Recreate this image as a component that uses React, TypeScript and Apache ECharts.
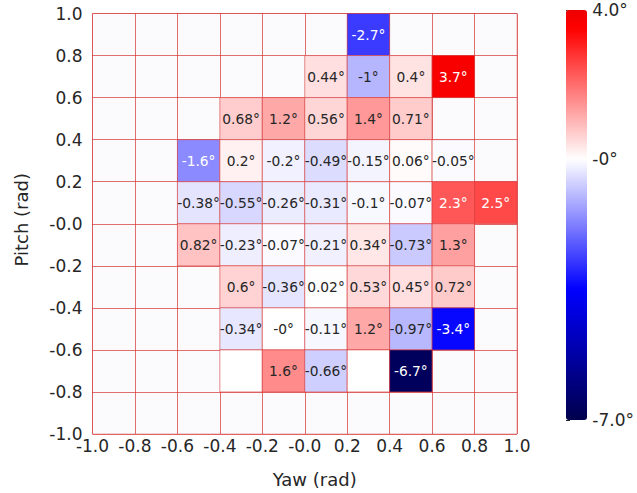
import React, { useEffect, useRef } from "react";
import * as echarts from "echarts";

const yawCenters = [-0.9, -0.7, -0.5, -0.3, -0.1, 0.1, 0.3, 0.5, 0.7, 0.9];
const pitchCenters = [0.9, 0.7, 0.5, 0.3, 0.1, -0.1, -0.3, -0.5, -0.7, -0.9];

const rowP09 = [null, null, null, null, null, null, -2.7, null, null, null];
const rowP07 = [null, null, null, null, null, 0.44, -1, 0.4, 3.7, null];
const rowP05 = [null, null, null, 0.68, 1.2, 0.56, 1.4, 0.71, null, null];
const rowP03 = [null, null, -1.6, 0.2, -0.2, -0.49, -0.15, 0.06, -0.05, null];
const rowP01 = [null, null, -0.38, -0.55, -0.26, -0.31, -0.1, -0.07, 2.3, 2.5];
const rowM01 = [null, null, 0.82, -0.23, -0.07, -0.21, 0.34, -0.73, 1.3, null];
const rowM03 = [null, null, null, 0.6, -0.36, 0.02, 0.53, 0.45, 0.72, null];
const rowM05 = [null, null, null, -0.34, -0, -0.11, 1.2, -0.97, -3.4, null];
const rowM07 = [null, null, null, 0, 1.6, -0.66, 0, -6.7, null, null];
const rowM09 = [null, null, null, null, null, null, null, null, null, null];
const rows = [rowP09, rowP07, rowP05, rowP03, rowP01, rowM01, rowM03, rowM05, rowM07, rowM09];

// cells drawn without annotation: [rowIndex, colIndex]
const unlabeledCells = [[8, 3], [8, 6]];

const xTickLabels = ["-1.0", "-0.8", "-0.6", "-0.4", "-0.2", "-0.0", "0.2", "0.4", "0.6", "0.8", "1.0"];
const yTickLabels = ["-1.0", "-0.8", "-0.6", "-0.4", "-0.2", "-0.0", "0.2", "0.4", "0.6", "0.8", "1.0"];
const cbarTicks = [-7, 0, 4];
const cbarTickLabels = ["-7.0°", "-0°", "4.0°"];
const vMin = -7;
const vMax = 4;
const cellSize = 0.2;

function seismic(s: number): string {
  const stops: [number, number[]][] = [
    [0, [0, 0, 76.5]],
    [0.25, [0, 0, 255]],
    [0.5, [255, 255, 255]],
    [0.75, [255, 0, 0]],
    [1, [127.5, 0, 0]],
  ];
  for (let i = 0; i < stops.length - 1; i++) {
    const [a, ca] = stops[i];
    const [b, cb] = stops[i + 1];
    if (s >= a && s <= b) {
      const t = (s - a) / (b - a);
      const c = ca.map((v, k) => Math.round(v + (cb[k] - v) * t));
      return `rgb(${c[0]},${c[1]},${c[2]})`;
    }
  }
  return "rgb(0,0,0)";
}

function fmtVal(v: number): string {
  if (v === 0 && Object.is(v, -0)) return "-0°";
  return `${v}°`;
}

export default function App() {
  const ref = useRef<HTMLDivElement>(null);
  useEffect(() => {
    if (!ref.current) return;
    const chart = echarts.init(ref.current, undefined, { renderer: "svg" });

    const data: number[][] = [];
    const labels: string[] = [];
    rows.forEach((row, ri) => {
      row.forEach((v, ci) => {
        if (v === null) return;
        data.push([yawCenters[ci], pitchCenters[ri], v as number]);
        const blank = unlabeledCells.some(([r, c]) => r === ri && c === ci);
        labels.push(blank ? "" : fmtVal(v as number));
      });
    });

    const colors: string[] = [];
    for (let v = vMin; v <= vMax + 1e-9; v += 0.25) {
      colors.push(seismic((v + 7) / 14));
    }

    const font = '"DejaVu Sans", sans-serif';
    const textColor = "#262626";
    const half = cellSize / 2;
    const tickSize = 17;
    const nameSize = 18;

    chart.setOption({
      animation: false,
      backgroundColor: "#ffffff",
      textStyle: { fontFamily: font },
      grid: [
        {
          left: 92.5,
          top: 13.5,
          width: 424.5,
          height: 424,
          show: true,
          backgroundColor: "#fbfbfe",
          borderColor: "rgba(225,120,120,0.6)",
          borderWidth: 1,
        },
        { left: 566, top: 10, width: 21, height: 410 },
      ],
      xAxis: [
        {
          type: "value",
          gridIndex: 0,
          min: -1,
          max: 1,
          interval: 0.2,
          name: "Yaw (rad)",
          nameLocation: "middle",
          nameGap: 36,
          nameTextStyle: {
            fontSize: nameSize,
            color: textColor,
            fontFamily: font,
            padding: [0, 0, 0, 20],
          },
          axisLine: { show: false },
          axisTick: { show: false },
          axisLabel: {
            margin: 3,
            fontSize: tickSize,
            color: textColor,
            fontFamily: font,
            showMinLabel: true,
            showMaxLabel: true,
            formatter: (v: number) => xTickLabels[Math.round((v + 1) / 0.2)] ?? "",
          },
          splitLine: { show: true, lineStyle: { color: "rgba(214,50,50,0.7)", width: 1 } },
        },
        { type: "value", gridIndex: 1, show: false, min: 0, max: 1 },
      ],
      yAxis: [
        {
          type: "value",
          gridIndex: 0,
          min: -1,
          max: 1,
          interval: 0.2,
          name: "Pitch (rad)",
          nameLocation: "middle",
          nameGap: 62,
          nameTextStyle: {
            fontSize: nameSize,
            color: textColor,
            fontFamily: font,
            padding: [0, 0, 0, 8],
          },
          axisLine: { show: false },
          axisTick: { show: false },
          axisLabel: {
            margin: 10,
            fontSize: tickSize,
            color: textColor,
            fontFamily: font,
            showMinLabel: true,
            showMaxLabel: true,
            formatter: (v: number) => yTickLabels[Math.round((v + 1) / 0.2)] ?? "",
          },
          splitLine: { show: true, lineStyle: { color: "rgba(214,50,50,0.7)", width: 1 } },
        },
        {
          type: "value",
          gridIndex: 1,
          min: vMin,
          max: vMax,
          position: "right",
          axisLine: { show: false },
          axisTick: {
            show: true,
            length: 4,
            lineStyle: { color: textColor, width: 1 },
            customValues: cbarTicks,
          },
          axisLabel: {
            margin: 8,
            fontSize: tickSize,
            color: textColor,
            fontFamily: font,
            customValues: cbarTicks,
            formatter: (v: number) => {
              const i = cbarTicks.findIndex((t) => Math.abs(t - v) < 1e-9);
              return i >= 0 ? cbarTickLabels[i] : "";
            },
          },
          splitLine: { show: false },
        },
      ],
      visualMap: {
        type: "continuous",
        min: vMin,
        max: vMax,
        dimension: 2,
        seriesIndex: 0,
        orient: "vertical",
        left: 566,
        top: 10,
        itemWidth: 21,
        itemHeight: 410,
        padding: 0,
        calculable: false,
        hoverLink: false,
        inRange: { color: colors },
      },
      series: [
        {
          type: "custom",
          xAxisIndex: 0,
          yAxisIndex: 0,
          data,
          renderItem: (params: any, api: any) => {
            const x = api.value(0);
            const y = api.value(1);
            const p0 = api.coord([x - half, y + half]);
            const p1 = api.coord([x + half, y - half]);
            const color = api.visual("color");
            const rgb = echarts.color.parse(color) || [255, 255, 255, 1];
            const lum = 0.299 * rgb[0] + 0.587 * rgb[1] + 0.114 * rgb[2];
            const label = labels[params.dataIndex];
            const children: any[] = [
              {
                type: "rect",
                shape: { x: p0[0], y: p0[1], width: p1[0] - p0[0], height: p1[1] - p0[1] },
                style: { fill: color, stroke: "rgba(214,60,60,0.6)", lineWidth: 1 },
              },
            ];
            if (label) {
              children.push({
                type: "text",
                style: {
                  text: label,
                  x: (p0[0] + p1[0]) / 2,
                  y: (p0[1] + p1[1]) / 2,
                  align: "center",
                  verticalAlign: "middle",
                  fill: lum < 160 ? "#ffffff" : textColor,
                  font: `13.8px ${font}`,
                },
              });
            }
            return { type: "group", children };
          },
        },
      ],
    });

    return () => chart.dispose();
  }, []);

  return (
    <div
      ref={ref}
      style={{ position: "fixed", left: 0, top: 0, width: 637, height: 493 }}
    />
  );
}
